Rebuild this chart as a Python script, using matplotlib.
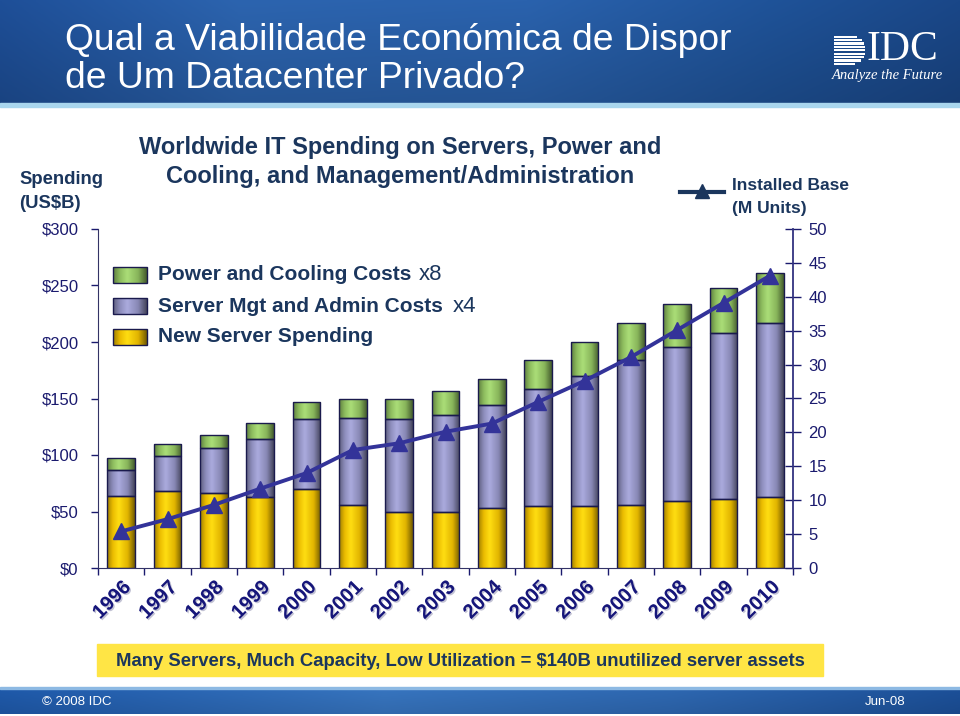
import numpy as np
import matplotlib
matplotlib.use("Agg")
import matplotlib.pyplot as plt
import matplotlib.patheffects as pe
from matplotlib import font_manager
from matplotlib.colors import LinearSegmentedColormap, to_rgb
from matplotlib.patches import Rectangle

# data
years = [str(y) for y in range(1996, 2011)]
new_server = [64, 68, 66, 63, 70, 56, 50, 50, 53, 55, 55, 56, 59, 61, 63]
mgmt_admin = [23, 31, 40, 51, 62, 77, 82, 85, 91, 103, 115, 128, 137, 147, 154]
power_cooling = [10, 11, 12, 14, 15, 17, 18, 22, 23, 26, 30, 33, 38, 40, 44]
installed_base = [5.4, 7.2, 9.3, 11.7, 14.0, 17.4, 18.4, 20.1, 21.3, 24.5, 27.6, 31.1, 35.1, 39.1, 43.1]
left_ticks = [0, 50, 100, 150, 200, 250, 300]
left_labels = ["$0", "$50", "$100", "$150", "$200", "$250", "$300"]
right_ticks = list(range(0, 55, 5))

plt.rcParams["font.family"] = ["Liberation Sans", "DejaVu Sans"]

NAVY = "#1B365D"
TICKC = "#1A1A6E"
YEARC = "#16167A"
LINEC = "#333399"
EDGE = "#1A1A4D"
YELLOW = "#FFCC00"
PURPLE = "#9999CC"
GREEN = "#99CC66"


def has_font(name):
    try:
        font_manager.findfont(name, fallback_to_default=False)
        return True
    except Exception:
        return False


def grad_fill(axis, patch, base, z=0.9):
    c = np.array(to_rgb(base))
    stops = [c * 0.62, c * 0.92, np.minimum(c + 0.07, 1), c * 0.88, c * 0.45]
    cmap = LinearSegmentedColormap.from_list("g", list(zip([0, 0.2, 0.42, 0.75, 1], stops)))
    x0, y0 = patch.get_x(), patch.get_y()
    w, h = patch.get_width(), patch.get_height()
    im = axis.imshow(np.linspace(0, 1, 64)[None, :], cmap=cmap, aspect="auto",
                     extent=[x0, x0 + w, y0, y0 + h], zorder=z, interpolation="bicubic")
    im.set_clip_path(patch)
    patch.set_facecolor("none")


def hgrad(stops, w=400, h=60, dark=0.85):
    pos = np.array([s[0] for s in stops])
    cols = np.array([to_rgb(s[1]) for s in stops])
    xs = np.linspace(0, 1, w)
    row = np.stack([np.interp(xs, pos, cols[:, k]) for k in range(3)], axis=1)
    vert = np.linspace(1.0, dark, h)
    return np.clip(row[None, :, :] * vert[:, None, None], 0, 1)


fig = plt.figure(figsize=(9.6, 7.16), dpi=100)

# background layer in pixel coordinates
bg = fig.add_axes([0, 0, 1, 1])
bg.set_zorder(0)
bg.axis("off")

head = hgrad([(0, "#1E4F98"), (0.25, "#2C64AF"), (0.55, "#2A62AD"), (0.8, "#1F5399"), (1, "#1A4788")])
bg.imshow(head, extent=[0, 960, 104, 0], aspect="auto", zorder=0)
bg.add_patch(Rectangle((0, 103), 960, 4, color="#A9D6EE", zorder=1))
bg.text(65, 40, "Qual a Viabilidade Económica de Dispor", color="white", fontsize=26.8, va="center")
bg.text(65, 78, "de Um Datacenter Privado?", color="white", fontsize=26.8, va="center")

# IDC logo
cx, cy, r = 851, 50, 14.5
for yy in np.arange(cy - r + 1.2, cy + r, 3.4):
    half = np.sqrt(max(r ** 2 - (yy - cy) ** 2, 0))
    bg.add_patch(Rectangle((834, yy - 1.1), cx + half - 834, 2.2, color="white", lw=0, zorder=2))
bg.text(867, 50, "IDC", color="white", fontsize=30, family="Liberation Serif", va="center", ha="left")
bg.text(887, 75, "Analyze the Future", color="white", fontsize=10.5, family="Liberation Serif",
        style="italic", va="center", ha="center")

# footer
foot = hgrad([(0, "#1F5AAB"), (0.4, "#3775C0"), (0.7, "#2E68B2"), (1, "#1C5099")], dark=0.9)
bg.imshow(foot, extent=[0, 960, 714, 688], aspect="auto", zorder=0)
bg.add_patch(Rectangle((0, 687), 960, 2, color="#8DB9E3", zorder=1))
bg.text(42, 702, "© 2008 IDC", color="white", fontsize=9.5, va="center")
bg.text(905, 702, "Jun-08", color="white", fontsize=9.5, va="center", ha="right")

# yellow message box
bg.add_patch(Rectangle((97, 644), 726, 32, color="#FFE545", zorder=1))
msg = "Many Servers, Much Capacity, Low Utilization = $140B unutilized server assets"
if has_font("Liberation Sans Narrow"):
    bg.text(460, 661, msg, family="Liberation Sans Narrow", fontsize=14, fontweight="bold",
            color=NAVY, ha="center", va="center", zorder=2)
else:
    bg.text(460, 661, msg, fontsize=13.3, fontweight="bold", color=NAVY, ha="center", va="center", zorder=2)

# titles and labels
bg.text(400, 162, "Worldwide IT Spending on Servers, Power and\nCooling, and Management/Administration",
        fontsize=17, fontweight="bold", color=NAVY, ha="center", va="center", linespacing=1.32)
bg.text(19, 180, "Spending", fontsize=13.3, fontweight="bold", color=NAVY, va="center")
bg.text(19, 203, "(US$B)", fontsize=13.3, fontweight="bold", color=NAVY, va="center")

# legend for bars
legend_rows = [("Power and Cooling Costs", "x8", 419, GREEN, 275),
               ("Server Mgt and Admin Costs", "x4", 453, PURPLE, 306),
               ("New Server Spending", "", 0, YELLOW, 337)]
for label, mult, mx, col, yy in legend_rows:
    sw = Rectangle((113, yy - 8), 34, 16, facecolor=col, edgecolor=EDGE, lw=1, zorder=3)
    bg.add_patch(sw)
    grad_fill(bg, sw, col, z=2.9)
    bg.text(158, yy, label, fontsize=15, fontweight="bold", color=NAVY, va="center")
    if mult:
        bg.text(mx, yy, mult, fontsize=16, color=NAVY, va="center")

# legend for line
bg.plot([680, 724], [192, 192], color=NAVY, lw=3, zorder=3)
bg.plot([702], [191], marker="^", ms=10, color=NAVY, zorder=4)
bg.text(732, 186, "Installed Base", fontsize=12.5, fontweight="bold", color=NAVY, va="center")
bg.text(732, 209, "(M Units)", fontsize=12.5, fontweight="bold", color=NAVY, va="center")

bg.set_xlim(0, 960)
bg.set_ylim(716, 0)

# main chart
ax = fig.add_axes([98 / 960, 1 - 568 / 716, 695 / 960, 339 / 716])
x = np.arange(len(years))
bottom2 = np.array(new_server)
bottom3 = bottom2 + np.array(mgmt_admin)
b1 = ax.bar(x, new_server, 0.6, color=YELLOW, edgecolor=EDGE, lw=1, zorder=1)
b2 = ax.bar(x, mgmt_admin, 0.6, bottom=bottom2, color=PURPLE, edgecolor=EDGE, lw=1, zorder=1)
b3 = ax.bar(x, power_cooling, 0.6, bottom=bottom3, color=GREEN, edgecolor=EDGE, lw=1, zorder=1)
for bars, col in [(b1, YELLOW), (b2, PURPLE), (b3, GREEN)]:
    for p in bars:
        grad_fill(ax, p, col)

ax.set_xlim(-0.5, 14.5)
ax.set_ylim(0, 300)
ax.set_xticks(np.arange(-0.5, 15, 1))
ax.set_xticklabels([])
ax.set_yticks(left_ticks)
ax.set_yticklabels(left_labels)
ax.tick_params(axis="y", direction="out", length=5, width=1, colors=TICKC, labelsize=12, pad=9)
ax.tick_params(axis="x", direction="out", length=5, width=1, colors=TICKC)
for s in ["top", "right"]:
    ax.spines[s].set_visible(False)
for s in ["left", "bottom"]:
    ax.spines[s].set_color("#333366")

for i, yr in enumerate(years):
    ax.text(i, -0.028, yr, transform=ax.get_xaxis_transform(), rotation=45, rotation_mode="anchor",
            ha="right", va="top", fontsize=14.5, fontweight="bold", color=YEARC,
            path_effects=[pe.withSimplePatchShadow(offset=(1, -1), shadow_rgbFace="#8888AA", alpha=0.5)])

ax2 = ax.twinx()
ax2.plot(x, installed_base, color=LINEC, lw=2.8, marker="^", ms=12, zorder=3)
ax2.set_ylim(0, 50)
ax2.set_yticks(right_ticks)
ax2.tick_params(axis="y", direction="inout", length=12, width=1, colors=TICKC, labelsize=12, pad=5)
for s in ["top", "left", "bottom"]:
    ax2.spines[s].set_visible(False)
ax2.spines["right"].set_color("#333380")
ax2.spines["right"].set_linewidth(1.3)

ax.set_zorder(1)
ax2.set_zorder(2)
ax.patch.set_visible(False)
ax2.patch.set_visible(False)

fig.savefig("out.png", dpi=100)
